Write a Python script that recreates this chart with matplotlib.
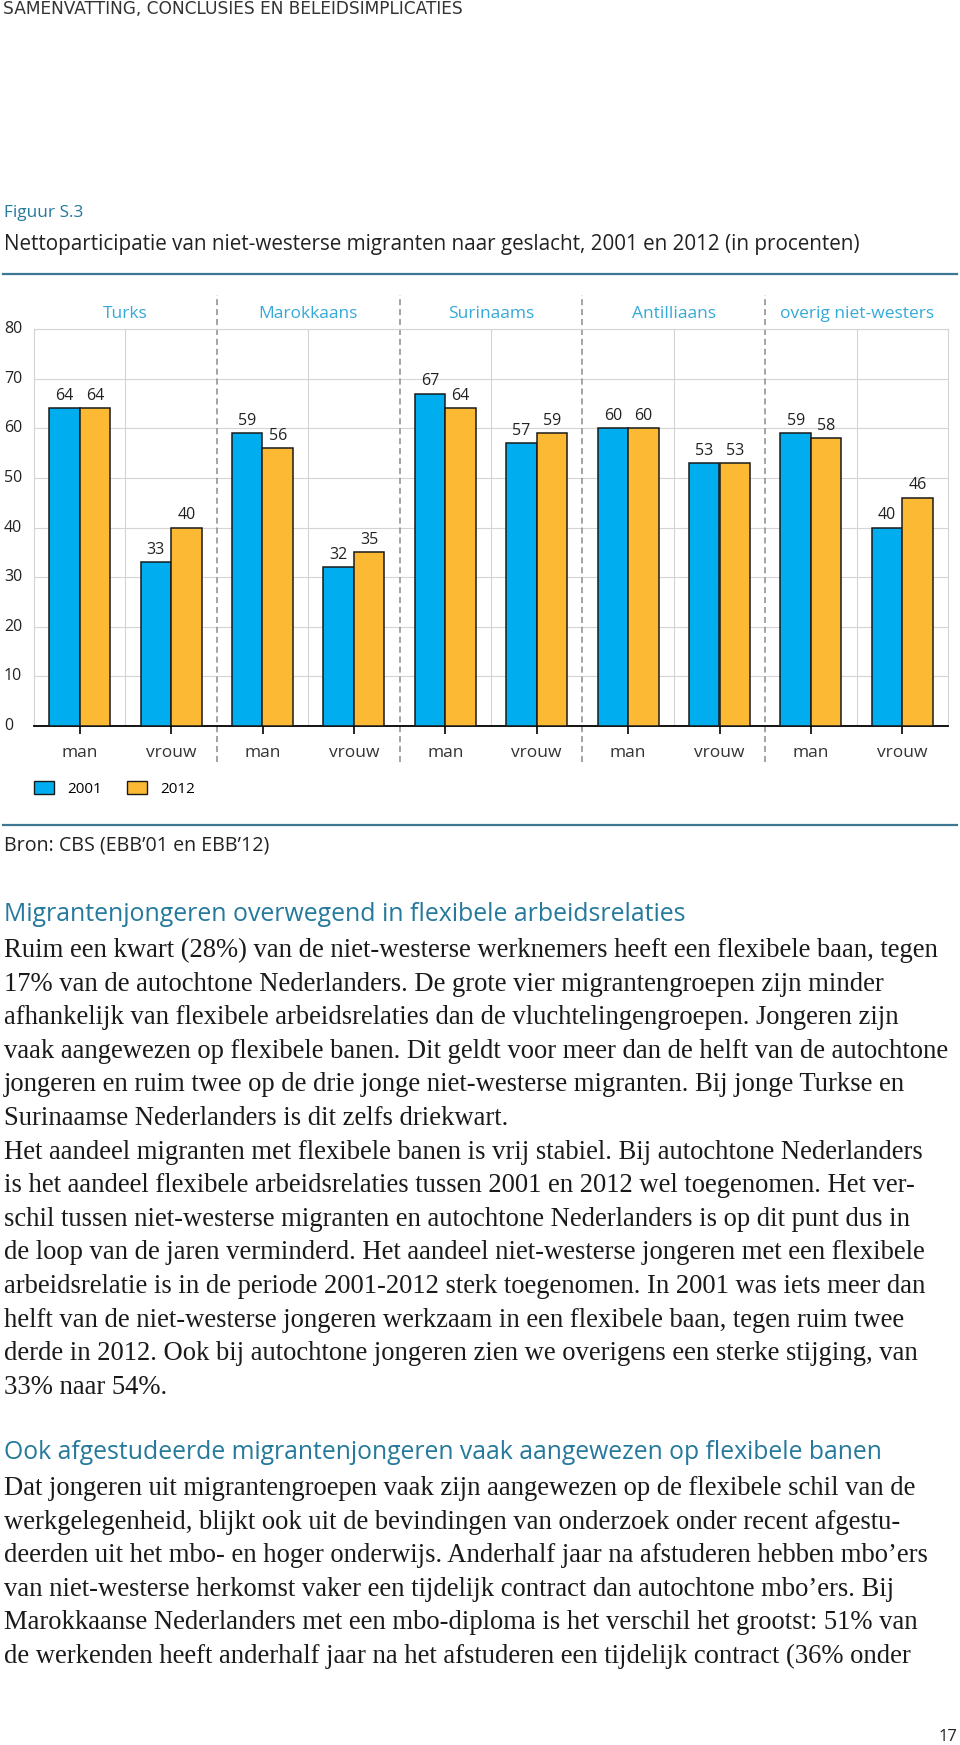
import matplotlib
matplotlib.use('Agg')
import matplotlib.pyplot as plt
from matplotlib.lines import Line2D
from matplotlib.patches import Patch

# Chart data
groups = ['Turks', 'Marokkaans', 'Surinaams', 'Antilliaans', 'overig niet-westers']
sexes = ['man', 'vrouw']
years = ['2001', '2012']
v2001 = [64, 33, 59, 32, 67, 57, 60, 53, 59, 40]
v2012 = [64, 40, 56, 35, 64, 59, 60, 53, 58, 46]
yticks = [0, 10, 20, 30, 40, 50, 60, 70, 80]

# Page texts
header = 'SAMENVATTING, CONCLUSIES EN BELEIDSIMPLICATIES'
fig_label = 'Figuur S.3'
title = 'Nettoparticipatie van niet-westerse migranten naar geslacht, 2001 en 2012 (in procenten)'
source = 'Bron: CBS (EBB’01 en EBB’12)'
heading1 = 'Migrantenjongeren overwegend in flexibele arbeidsrelaties'
para1 = [
    'Ruim een kwart (28%) van de niet-westerse werknemers heeft een flexibele baan, tegen',
    '17% van de autochtone Nederlanders. De grote vier migrantengroepen zijn minder',
    'afhankelijk van flexibele arbeidsrelaties dan de vluchtelingengroepen. Jongeren zijn',
    'vaak aangewezen op flexibele banen. Dit geldt voor meer dan de helft van de autochtone',
    'jongeren en ruim twee op de drie jonge niet-westerse migranten. Bij jonge Turkse en',
    'Surinaamse Nederlanders is dit zelfs driekwart.',
    'Het aandeel migranten met flexibele banen is vrij stabiel. Bij autochtone Nederlanders',
    'is het aandeel flexibele arbeidsrelaties tussen 2001 en 2012 wel toegenomen. Het ver-',
    'schil tussen niet-westerse migranten en autochtone Nederlanders is op dit punt dus in',
    'de loop van de jaren verminderd. Het aandeel niet-westerse jongeren met een flexibele',
    'arbeidsrelatie is in de periode 2001-2012 sterk toegenomen. In 2001 was iets meer dan',
    'helft van de niet-westerse jongeren werkzaam in een flexibele baan, tegen ruim twee',
    'derde in 2012. Ook bij autochtone jongeren zien we overigens een sterke stijging, van',
    '33% naar 54%.',
]
heading2 = 'Ook afgestudeerde migrantenjongeren vaak aangewezen op flexibele banen'
para2 = [
    'Dat jongeren uit migrantengroepen vaak zijn aangewezen op de flexibele schil van de',
    'werkgelegenheid, blijkt ook uit de bevindingen van onderzoek onder recent afgestu-',
    'deerden uit het mbo- en hoger onderwijs. Anderhalf jaar na afstuderen hebben mbo’ers',
    'van niet-westerse herkomst vaker een tijdelijk contract dan autochtone mbo’ers. Bij',
    'Marokkaanse Nederlanders met een mbo-diploma is het verschil het grootst: 51% van',
    'de werkenden heeft anderhalf jaar na het afstuderen een tijdelijk contract (36% onder',
]
page_no = '17'

W, H = 960, 1745
BLUE = '#00aeef'
ORANGE = '#fbb934'
TEAL = '#25799c'
LIGHTBLUE = '#34a9d8'
RULE = '#3d7893'
INK = '#222222'
SANS = ['Open Sans', 'DejaVu Sans']
SERIF = ['Liberation Serif', 'DejaVu Serif']

fig = plt.figure(figsize=(W / 100, H / 100), dpi=100)
renderer = fig.canvas.get_renderer()


def put(x, y, s, size, width=None, **kw):
    # x, y in page pixels (y from top); optionally scale font to a target width
    t = fig.text(x / W, 1 - y / H, s, fontsize=size, **kw)
    if width:
        bw = t.get_window_extent(renderer).width
        t.set_fontsize(size * width / bw)
    return t


# --- page header and figure caption
put(3, 14, header, 9.5, width=462, family='DejaVu Sans', color='#333333', va='baseline')
put(4, 217, fig_label, 12, width=79, family=SANS, color=TEAL, va='baseline')
put(4, 250, title, 12, width=850, family=SANS, color=INK, va='baseline')

for yy in (274, 825):
    fig.add_artist(Line2D([3 / W, 957 / W], [1 - yy / H] * 2, color=RULE, lw=1.6))

# --- bar chart
ax = fig.add_axes([34 / W, 1 - 726 / H, 914 / W, 397 / H])
n = len(v2001)
x = list(range(n))
bw = 0.334
ax.bar([i - bw / 2 for i in x], v2001, bw, color=BLUE, edgecolor='#1a1a1a', lw=1.1, zorder=3)
ax.bar([i + bw / 2 for i in x], v2012, bw, color=ORANGE, edgecolor='#1a1a1a', lw=1.1, zorder=3)

for i in x:
    ax.text(i - bw / 2, v2001[i] + 0.9, str(v2001[i]), ha='center', va='bottom',
            fontsize=11.5, color=INK, family=SANS)
    ax.text(i + bw / 2, v2012[i] + 0.9, str(v2012[i]), ha='center', va='bottom',
            fontsize=11.5, color=INK, family=SANS)

ax.set_xlim(-0.5, n - 0.5)
ax.set_ylim(0, 80)
ax.set_yticks(yticks)
ax.set_yticklabels([str(v) for v in yticks], ha='left', va='center', family=SANS,
                   fontsize=11.5, color=INK)
ax.tick_params(axis='y', length=0, pad=21.6)
ax.set_xticks(x)
ax.set_xticklabels(sexes * len(groups), family=SANS, fontsize=12.5, color='#333333')
ax.tick_params(axis='x', length=5.8, width=1.2, color='black', pad=8)

ax.set_axisbelow(True)
ax.yaxis.grid(True, color='#d4d4d4', lw=0.8, zorder=0)
for side in ('left', 'right', 'top'):
    ax.spines[side].set_color('#d4d4d4')
    ax.spines[side].set_linewidth(0.8)
ax.spines['bottom'].set_color('black')
ax.spines['bottom'].set_linewidth(1.3)

# light gridline between man/vrouw, dashed separator between groups
for k in range(len(groups)):
    ax.axvline(2 * k + 0.5, color='#d4d4d4', lw=0.8, zorder=0)
for k in range(1, len(groups)):
    ax.axvline(2 * k - 0.5, ymin=-0.091, ymax=1.086, color='#8c8c8c', lw=1.1,
               ls=(0, (4, 2.5)), clip_on=False, zorder=1)
for k, g in enumerate(groups):
    ax.text(2 * k + 0.5, 83.0, g, ha='center', va='center', fontsize=12.5,
            color=LIGHTBLUE, family=SANS)

handles = [Patch(facecolor=BLUE, edgecolor='#1a1a1a', lw=1.0),
           Patch(facecolor=ORANGE, edgecolor='#1a1a1a', lw=1.0)]
ax.legend(handles, years, loc='upper left', bbox_to_anchor=(34 / W, 1 - 781 / H),
          bbox_transform=fig.transFigure, frameon=False, ncol=2, borderaxespad=0,
          borderpad=0, handlelength=1.3, handleheight=0.95, handletextpad=0.9,
          columnspacing=1.6, prop={'family': SANS, 'size': 11})

put(4, 851, source, 12, width=263, family=SANS, color=INK, va='baseline')

# --- body text
probe = [fig.text(0, 0, s, fontsize=10, family=SERIF) for s in para1 + para2]
widest = max(t.get_window_extent(renderer).width for t in probe)
for t in probe:
    t.remove()
body_size = 10 * 945 / widest

put(4, 921, heading1, 12, width=680, family=SANS, color=TEAL, va='baseline')
for j, line in enumerate(para1):
    put(4, 957 + j * 33.6, line, body_size, family=SERIF, color='#1a1a1a', va='baseline')

put(4, 1459, heading2, 12, width=875, family=SANS, color=TEAL, va='baseline')
for j, line in enumerate(para2):
    put(4, 1495 + j * 33.6, line, body_size, family=SERIF, color='#1a1a1a', va='baseline')

put(957, 1741, page_no, 12, family=SANS, color=INK, ha='right', va='baseline')

fig.savefig('out.png', dpi=100)
